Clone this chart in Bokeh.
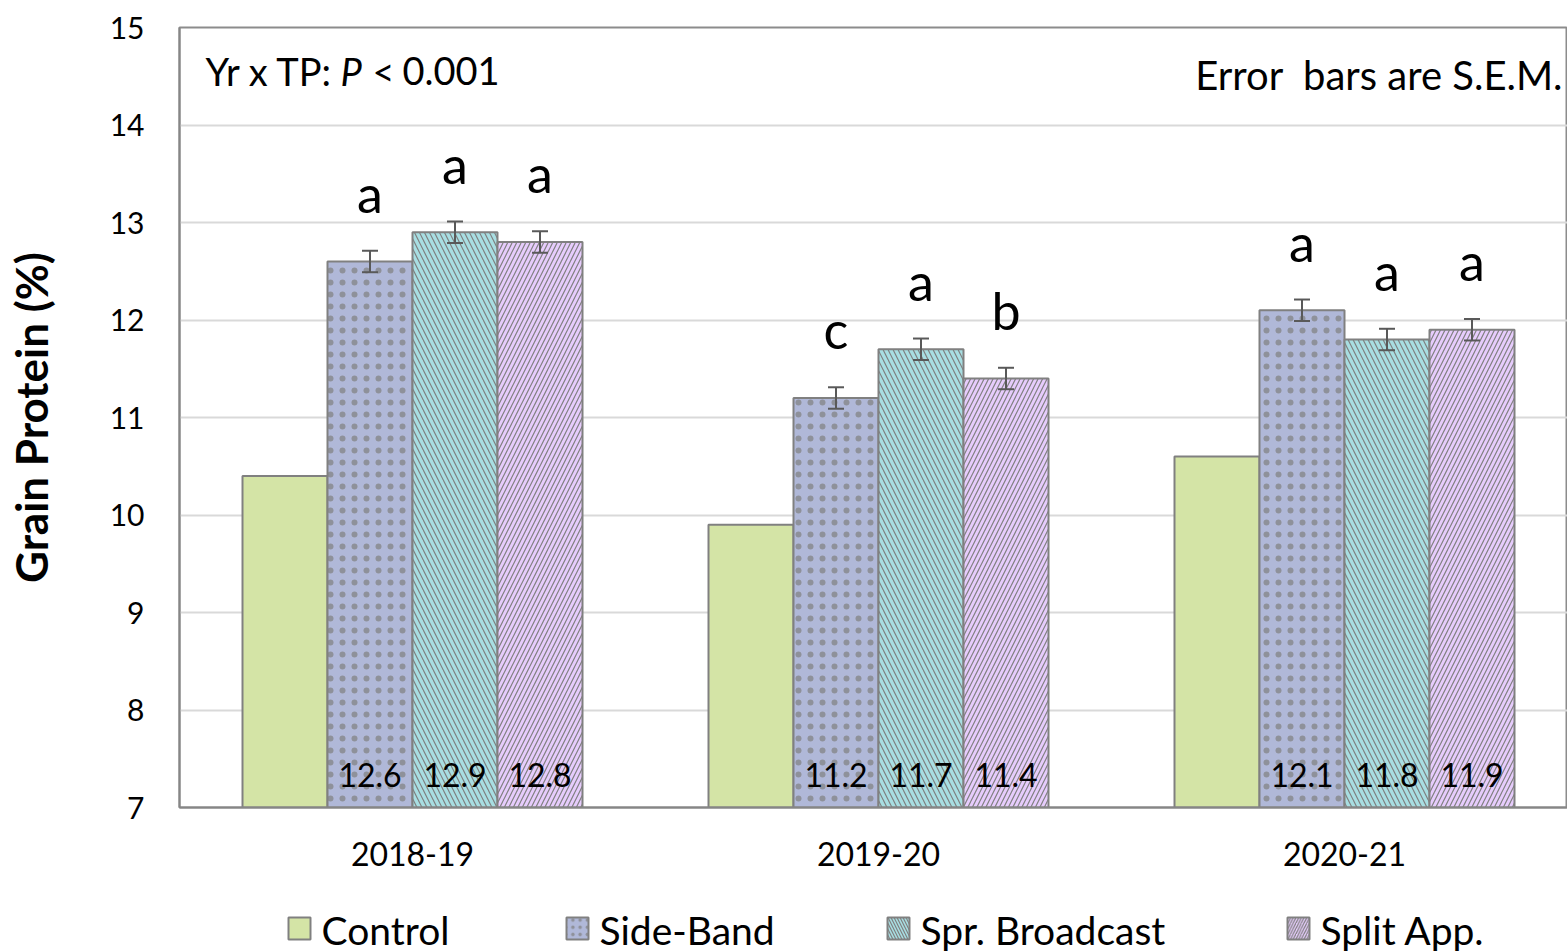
import numpy as np
from bokeh.plotting import figure
from bokeh.layouts import column
from bokeh.models import (ColumnDataSource, Range1d, FixedTicker, Whisker, TeeHead, Label)
from bokeh.core.properties import value
from bokeh.embed import file_html
from bokeh.resources import INLINE

# ---------------- data ----------------
years = ["2018-19", "2019-20", "2020-21"]
treatments = ["Control", "Side-Band", "Spr. Broadcast", "Split App."]
control = [10.4, 9.9, 10.6]
side_band = [12.6, 11.2, 12.1]
spr_broadcast = [12.9, 11.7, 11.8]
split_app = [12.8, 11.4, 11.9]
sem_side_band = [0.11, 0.11, 0.11]
sem_spr_broadcast = [0.11, 0.11, 0.11]
sem_split_app = [0.11, 0.11, 0.11]
letters_side_band = ["a", "c", "a"]
letters_spr_broadcast = ["a", "a", "a"]
letters_split_app = ["a", "b", "a"]
y_ticks = [7, 8, 9, 10, 11, 12, 13, 14, 15]

# ---------------- layout constants ----------------
FONT = "Lato"
W = 1567
H_MAIN, H_LEG = 880, 71
LEFT, TOP, BOTTOM = 179, 27, 73
FRAME_W = W - LEFT
FRAME_H = H_MAIN - TOP - BOTTOM
PX_X = 466.0                       # pixels per category
Y0, Y1 = 7, 15
PX_Y = FRAME_H / (Y1 - Y0)
BAR_W = 85.0 / PX_X

p = figure(width=W, height=H_MAIN, output_backend="svg", toolbar_location=None,
           x_range=Range1d(0, FRAME_W / PX_X), y_range=Range1d(Y0, Y1),
           min_border_left=LEFT, min_border_top=TOP, min_border_bottom=BOTTOM,
           min_border_right=0)
p.background_fill_color = "white"
p.border_fill_color = "white"
p.outline_line_color = "#8C8C8C"
p.outline_line_width = 2

# axes
yax = p.yaxis[0]
yax.ticker = FixedTicker(ticks=y_ticks)
yax.major_label_text_font = FONT
yax.major_label_text_font_size = "30px"
yax.major_label_text_color = "black"
yax.major_tick_line_color = None
yax.minor_tick_line_color = None
yax.major_tick_out = 0
yax.major_label_standoff = 35
yax.axis_line_color = "#868686"
yax.axis_line_width = 2
yax.axis_label = "Grain Protein (%)"
yax.axis_label_text_font = FONT
yax.axis_label_text_font_style = "bold"
yax.axis_label_text_font_size = "44px"
yax.axis_label_text_color = "black"
yax.axis_label_standoff = 50

centers = np.arange(len(years)) + 0.5
xax = p.xaxis[0]
xax.ticker = FixedTicker(ticks=list(centers))
xax.major_label_overrides = {float(c): y for c, y in zip(centers, years)}
xax.major_label_text_font = FONT
xax.major_label_text_font_size = "32px"
xax.major_label_text_color = "black"
xax.major_tick_line_color = None
xax.minor_tick_line_color = None
xax.major_tick_out = 0
xax.major_label_standoff = 34
xax.axis_line_color = "#868686"
xax.axis_line_width = 2

p.xgrid.grid_line_color = None
p.ygrid.ticker = FixedTicker(ticks=y_ticks)
p.ygrid.grid_line_color = "#D9D9D9"
p.ygrid.grid_line_width = 2

# ---------------- bar styles ----------------
fills = ["#D4E4A6", "#B0B8D8", "#A8DEE2", "#E6CCFC"]
hatches = [None, "dot", "left_diagonal_line", "right_diagonal_line"]
hscales = [None, 12, 10, 9]
hweights = [None, 1.0, 1.2, 1.2]
halphas = [None, 0.7, 1.0, 1.0]
HATCH_COLOR = "#808080"
offsets = [-1.5, -0.5, 0.5, 1.5]

def style(fc, hp, hs, hw, ha):
    kw = dict(fill_color=fc, line_color="#808080", line_width=2)
    if hp:
        kw.update(hatch_pattern=hp, hatch_color=HATCH_COLOR, hatch_scale=hs,
                  hatch_weight=hw, hatch_alpha=ha)
    return kw

series = [control, side_band, spr_broadcast, split_app]
for vals, fc, hp, hs, hw, ha, off in zip(series, fills, hatches, hscales, hweights,
                                         halphas, offsets):
    src = ColumnDataSource(dict(x=centers + off * BAR_W, top=vals))
    p.vbar(x="x", top="top", bottom=Y0, width=BAR_W, source=src, **style(fc, hp, hs, hw, ha))

# error bars, value labels, letters
for vals, sems, lets, off in zip([side_band, spr_broadcast, split_app],
                                 [sem_side_band, sem_spr_broadcast, sem_split_app],
                                 [letters_side_band, letters_spr_broadcast, letters_split_app],
                                 offsets[1:]):
    vals = np.array(vals); sems = np.array(sems)
    xs = centers + off * BAR_W
    src = ColumnDataSource(dict(x=xs, upper=vals + sems, lower=vals - sems,
                                lab=[f"{v:.1f}" for v in vals],
                                ly=np.full(len(vals), Y0 + 33 / PX_Y),
                                let=lets, lety=vals + sems + 58 / PX_Y))
    wh = Whisker(source=src, base="x", upper="upper", lower="lower", level="overlay",
                 line_color="#595959", line_width=2,
                 upper_head=TeeHead(size=16, line_color="#595959", line_width=2),
                 lower_head=TeeHead(size=16, line_color="#595959", line_width=2))
    p.add_layout(wh)
    p.text(x="x", y="ly", text="lab", source=src, text_font=value(FONT),
           text_font_size="32px", text_align="center", text_baseline="middle",
           text_color="black")
    p.text(x="x", y="lety", text="let", source=src, text_font=value(FONT),
           text_font_size="52px", text_align="center", text_baseline="alphabetic",
           text_color="black")

# ---------------- annotations ----------------
def dx(px):
    return (px - LEFT) / PX_X

def dy(py):
    return Y1 - (py - TOP) / PX_Y

base1 = dy(70)
for txt, px, fstyle in [("Yr x TP:", 205, "normal"), ("P", 340, "italic"),
                        ("<", 372, "normal"), ("0.001", 402, "normal")]:
    p.add_layout(Label(x=dx(px), y=base1, text=txt, text_font=FONT, text_font_style=fstyle,
                       text_font_size="38px", text_baseline="alphabetic", text_color="black"))
p.add_layout(Label(x=dx(1562), y=dy(74), text="Error\u00a0 bars are S.E.M.", text_font=FONT,
                   text_font_size="40px", text_align="right", text_baseline="alphabetic",
                   text_color="black"))

# ---------------- legend strip (below the chart) ----------------
# the strip's frame is aligned with the chart frame, so map x in page pixels
leg = figure(width=W, height=H_LEG, output_backend="svg", toolbar_location=None,
             x_range=Range1d(LEFT, W), y_range=Range1d(H_LEG, 0),
             x_axis_location=None, y_axis_location=None,
             min_border_left=0, min_border_right=0, min_border_top=0, min_border_bottom=0)
leg.outline_line_color = None
leg.grid.visible = False
leg.background_fill_color = "white"
leg.border_fill_color = "white"

SQ = 22
leg_left = [288, 566, 887, 1287]          # left edge of each legend key (px)
LEG_Y = 48                                # key centre, px from top of strip
for name, lx, fc, hp, hs, hw, ha in zip(treatments, leg_left, fills, hatches, hscales,
                                        hweights, halphas):
    leg.rect(x=[lx + SQ / 2], y=[LEG_Y], width=SQ, height=SQ,
             **style(fc, hp, hs * 0.6 if hs else None, hw, ha))
    leg.text(x=[lx + SQ + 11], y=[LEG_Y + 1], text=[name], text_font=value(FONT),
             text_font_size="39px", text_align="left", text_baseline="middle",
             text_color="black")

open("out.html", "w").write(file_html(column(p, leg, spacing=0), INLINE))
